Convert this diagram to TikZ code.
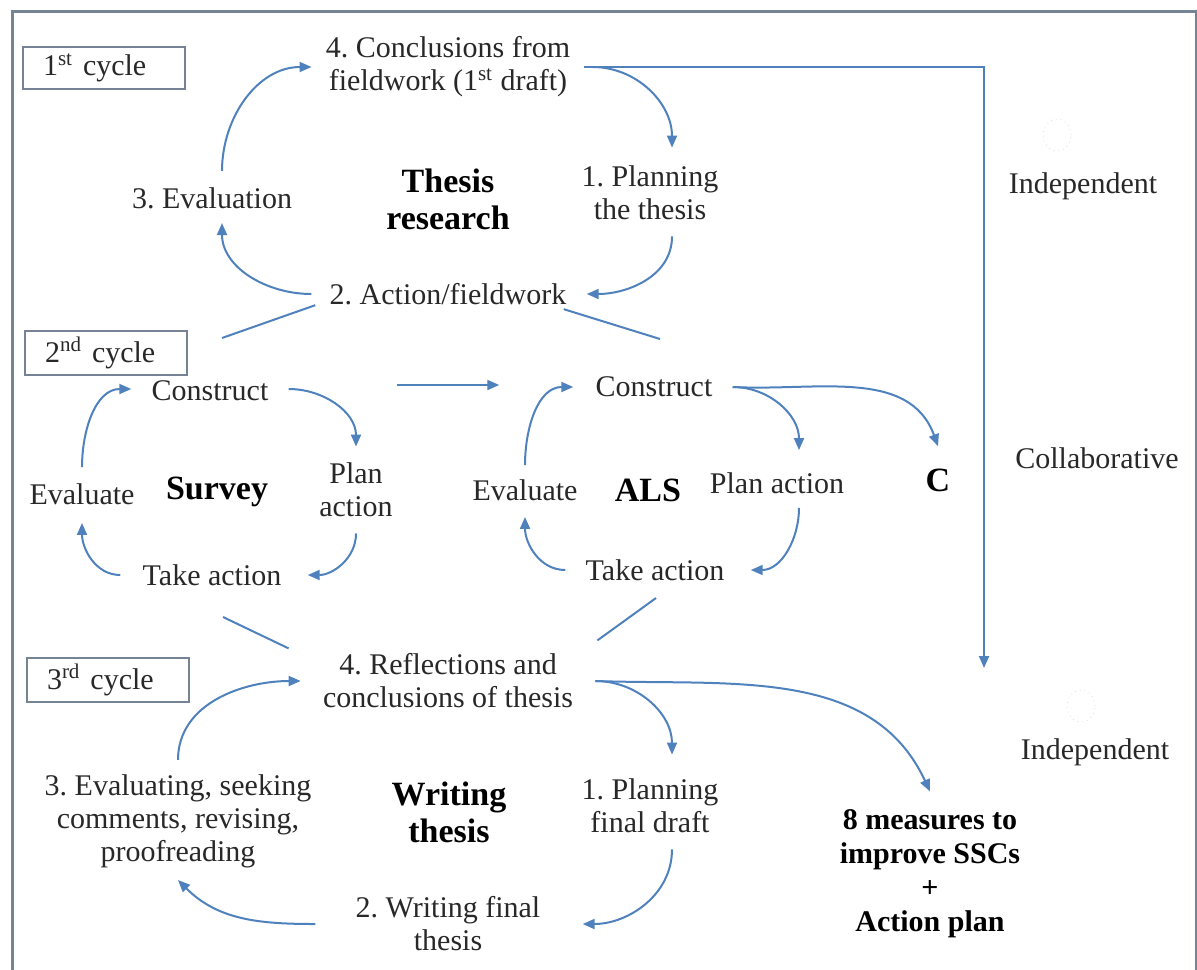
\documentclass[tikz,border=0pt]{standalone}
\usepackage{fontspec}
\setmainfont{Liberation Serif}
\usetikzlibrary{arrows.meta}
\definecolor{flowblue}{RGB}{79,129,189}
\definecolor{framegray}{RGB}{118,131,148}
\definecolor{txtgray}{RGB}{40,40,40}

\begin{document}
\frenchspacing
\begin{tikzpicture}[x=0.5pt, y=-0.5pt,
  lbl/.style={font=\fontsize{15}{16.5}\selectfont, align=center, inner sep=3pt, text=txtgray},
  head/.style={font=\fontsize{17}{18.5}\selectfont\bfseries, align=center, inner sep=3pt, text=black},
  cyclebox/.style={draw=framegray, line width=1pt, fill=white, anchor=west, minimum height=20.5pt,
    text width=61pt, inner xsep=10pt, align=left, font=\fontsize{15}{16.5}\selectfont, text=txtgray},
  flow/.style={draw=flowblue, line width=1pt, -{Triangle[length=6pt,width=5pt]}},
  link/.style={draw=flowblue, line width=1pt},
]
  \useasboundingbox (0,0) rectangle (1197,969);
  \draw[framegray, line width=1.5pt] (12,11) rectangle (1196,1000);
  % cycles
  \node[cyclebox] (cyc1) at (22,68) {1\textsuperscript{st} cycle};
  \node[cyclebox] (cyc2) at (24,353) {2\textsuperscript{nd} cycle};
  \node[cyclebox] (cyc3) at (26,680) {3\textsuperscript{rd} cycle};
  % thesis research
  \node[lbl] (c4) at (448,67) {4. Conclusions from\\fieldwork (1\textsuperscript{st} draft)};
  \node[head] (tr) at (448,199) {Thesis\\research};
  \node[lbl] (ev3) at (212,198) {3. Evaluation};
  \node[lbl] (pl1) at (650,193) {1. Planning\\the thesis};
  \node[lbl] (act2) at (448,294) {2. Action/fieldwork};
  % survey
  \node[lbl] (scon) at (210,391) {Construct};
  \node[head] (survey) at (217,492) {Survey};
  \node[lbl] (seval) at (82,494) {Evaluate};
  \node[lbl] (splan) at (356,490) {Plan\\action};
  \node[lbl] (stake) at (212,575) {Take action};
  % ALS
  \node[lbl] (acon) at (654,387) {Construct};
  \node[head] (als) at (648,490) {ALS};
  \node[lbl] (aeval) at (525,490) {Evaluate};
  \node[lbl] (aplan) at (777,483) {Plan action};
  \node[lbl] (atake) at (655,570) {Take action};
  \node[head] (cc) at (938,480) {C};
  % writing thesis
  \node[lbl] (r4) at (448,681) {4. Reflections and\\conclusions of thesis};
  \node[head] (wt) at (449,812) {Writing\\thesis};
  \node[lbl] (ev3w) at (178,821) {3. Evaluating, seeking\\comments, revising,\\proofreading};
  \node[lbl] (pl1w) at (650,806) {1. Planning\\final draft};
  \node[lbl] (wr2) at (448,924) {2. Writing final\\thesis};
  \node[head, font=\fontsize{15}{17}\selectfont\bfseries] (meas) at (930,874) {8 measures to\\improve SSCs\\+\\Action plan};
  % modes
  \node[lbl] (ind1) at (1083,186) {Independent};
  \node[lbl] (coll) at (1097,458) {Collaborative};
  \node[lbl] (ind2) at (1095,752) {Independent};
  \draw[gray!30, dotted] (1057,135) ellipse [x radius=7pt, y radius=8pt];
  \draw[gray!30, dotted] (1081,706) ellipse [x radius=7pt, y radius=8pt];

  % Relations
  \coordinate (lend) at (984,668);
  \coordinate (sepa) at (222,338);
  \coordinate (sepb) at (660,339);
  \coordinate (sepc) at (223,617);
  \coordinate (sepd) at (656,598);
  \draw[flow] ([xshift=5pt,yshift=5pt]ev3.north) to[out=90,in=180] ([xshift=-4pt]c4.west);
  \draw[flow] ([xshift=8pt]c4.east) to[out=0,in=90] ([xshift=11pt,yshift=6pt]pl1.north);
  \draw[flow] ([xshift=11pt,yshift=-5pt]pl1.south) to[out=-90,in=0] ([xshift=7pt]act2.east);
  \draw[flow] ([xshift=-6pt]act2.west) to[out=180,in=-90] ([xshift=5pt,yshift=-4pt]ev3.south);
  \draw[flow] ([xshift=4pt]c4.east) -| (lend);
  \draw[link] ([xshift=-4pt,yshift=3pt]act2.south west) -- (sepa);
  \draw[link] ([xshift=-4.5pt,yshift=1pt]act2.south east) -- (sepb);

  \draw[flow] ([yshift=5pt]seval.north) to[out=90,in=180] ([xshift=-7pt,yshift=1pt]scon.west);
  \draw[flow] ([xshift=7pt,yshift=1pt]scon.east) to[out=0,in=90] ([yshift=5pt]splan.north);
  \draw[flow] ([yshift=-5pt]splan.south) to[out=-90,in=0] ([xshift=10pt]stake.east);
  \draw[flow] ([xshift=-8pt]stake.west) to[out=180,in=-90] ([yshift=-6pt]seval.south);
  \draw[flow] ([xshift=61pt,yshift=3pt]scon.east) -- ([xshift=-45pt,yshift=1pt]acon.west);

  \draw[flow] ([yshift=4pt]aeval.north) to[out=90,in=180] ([xshift=-8pt]acon.west);
  \draw[flow] ([xshift=7pt]acon.east) to[out=0,in=90] ([xshift=11pt,yshift=8pt]aplan.north);
  \draw[flow] ([xshift=7pt]acon.east) to[out=-3,in=110] ([yshift=8pt]cc.north);
  \draw[flow] ([xshift=11pt,yshift=-4pt]aplan.south) to[out=-90,in=0] ([xshift=10pt]atake.east);
  \draw[flow] ([xshift=-7pt]atake.west) to[out=180,in=-90] ([yshift=-5pt]aeval.south);

  \draw[link] (sepc) -- ([xshift=-14pt,yshift=-0.5pt]r4.north west);
  \draw[link] (sepd) -- ([xshift=9pt,yshift=3.5pt]r4.north east);
  \draw[flow] ([yshift=4pt]ev3w.north) to[out=90,in=180] ([xshift=-8pt]r4.west);
  \draw[flow] ([xshift=8pt]r4.east) to[out=0,in=90] ([xshift=11pt,yshift=9pt]pl1w.north);
  \draw[flow] ([xshift=8pt]r4.east) to[out=-2,in=115] ([yshift=6pt]meas.north);
  \draw[flow] ([xshift=11pt,yshift=-5pt]pl1w.south) to[out=-90,in=0] ([xshift=18pt]wr2.east);
  \draw[flow] ([xshift=-17pt]wr2.west) to[out=180,in=-45] ([yshift=-3pt]ev3w.south);
\end{tikzpicture}
\end{document}
